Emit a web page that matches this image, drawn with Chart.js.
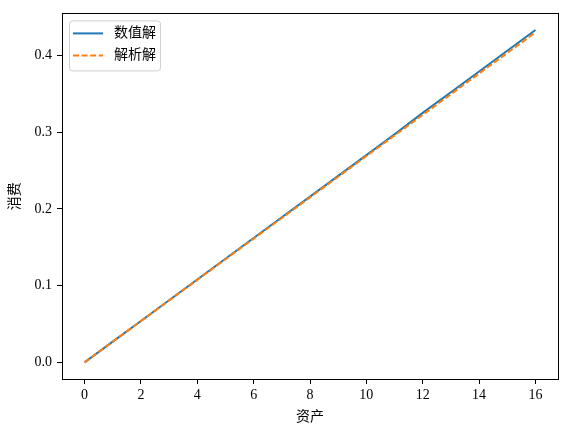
<!DOCTYPE html>
<html>
<head>
<meta charset="utf-8">
<script src="https://cdn.jsdelivr.net/npm/chart.js@4"></script>
<style>
  html, body { margin: 0; padding: 0; background: #fff; }
  #wrap { width: 567px; height: 436px; }
</style>
</head>
<body>
<div id="wrap"><canvas id="chart" width="567" height="436"></canvas></div>
<script>
// asset grid and consumption
const assets = [0, 1, 2, 3, 4, 5, 6, 7, 8, 9, 10, 11, 12, 13, 14, 15, 16];
const numerical = [0, 0.027, 0.054, 0.081, 0.108, 0.135, 0.162, 0.189, 0.216, 0.243, 0.270, 0.297, 0.325, 0.352, 0.379, 0.406, 0.433];
const analytical = [0, 0.0269, 0.0538, 0.0806, 0.1075, 0.1344, 0.1613, 0.1881, 0.215, 0.2419, 0.2688, 0.2956, 0.3225, 0.3494, 0.3763, 0.4031, 0.430];
const xTicks = [0, 2, 4, 6, 8, 10, 12, 14, 16];
const yTicks = [0.0, 0.1, 0.2, 0.3, 0.4];

const FONT = "'Liberation Serif', 'Noto Sans CJK SC', serif";

// frame around the plot + legend box drawn in the top-left corner
const framePlugin = {
    id: "frame",
    afterDraw(chart) {
        const ctx = chart.ctx;
        const a = chart.chartArea;
        ctx.save();
        ctx.strokeStyle = "#000";
        ctx.lineWidth = 1;
        ctx.strokeRect(Math.round(a.left) + 0.5, Math.round(a.top) + 0.5,
            Math.round(a.right - a.left), Math.round(a.bottom - a.top));

        // legend
        const x = a.left + 7, y = a.top + 7, w = 91, h = 50;
        ctx.beginPath();
        ctx.roundRect(x + 0.5, y + 0.5, w, h, 3);
        ctx.fillStyle = "rgba(255,255,255,0.8)";
        ctx.fill();
        ctx.strokeStyle = "#d0d0d0";
        ctx.stroke();

        chart.data.datasets.forEach((ds, i) => {
            const ly = y + 13 + i * 22;
            ctx.beginPath();
            ctx.strokeStyle = ds.borderColor;
            ctx.lineWidth = 2;
            ctx.setLineDash(ds.borderDash || []);
            ctx.moveTo(x + 4, ly);
            ctx.lineTo(x + 34, ly);
            ctx.stroke();
            ctx.setLineDash([]);
            ctx.fillStyle = "#000";
            ctx.font = "14px " + FONT;
            ctx.textBaseline = "middle";
            ctx.fillText(ds.label, x + 45, ly);
        });
        ctx.restore();
    }
};

new Chart(document.getElementById("chart"), {
    type: "line",
    data: {
        labels: assets,
        datasets: [
            {
                label: "数值解",
                data: assets.map((a, i) => ({ x: a, y: numerical[i] })),
                borderColor: "#1f77b4",
                borderWidth: 2,
                pointRadius: 0,
                order: 1,
                fill: false
            },
            {
                label: "解析解",
                data: assets.map((a, i) => ({ x: a, y: analytical[i] })),
                borderColor: "#ff7f0e",
                borderWidth: 2,
                borderDash: [6, 2.6],
                pointRadius: 0,
                order: 0,
                fill: false
            }
        ]
    },
    options: {
        responsive: false,
        animation: false,
        layout: { padding: { top: 9, right: 9, left: 0, bottom: 0 } },
        plugins: {
            legend: { display: false },
            tooltip: { enabled: false }
        },
        scales: {
            x: {
                type: "linear",
                min: -0.8,
                max: 16.8,
                afterBuildTicks: s => { s.ticks = xTicks.map(v => ({ value: v })); },
                afterFit: s => { s.height = 57; },
                grid: { display: true, drawOnChartArea: false, tickLength: 5, color: "#000" },
                border: { display: true, color: "#000" },
                ticks: {
                    color: "#000",
                    padding: 3,
                    maxRotation: 0,
                    font: { family: FONT, size: 14 },
                    callback: v => String(v)
                },
                title: {
                    display: true,
                    text: "资产",
                    color: "#000",
                    padding: { top: 4, bottom: 10 },
                    font: { family: FONT, size: 14 }
                }
            },
            y: {
                min: -0.02165,
                max: 0.45465,
                afterBuildTicks: s => { s.ticks = yTicks.map(v => ({ value: v })); },
                afterFit: s => { s.width = 62; },
                grid: { display: true, drawOnChartArea: false, tickLength: 5, color: "#000" },
                border: { display: true, color: "#000" },
                ticks: {
                    color: "#000",
                    padding: 5,
                    font: { family: FONT, size: 14 },
                    callback: v => v.toFixed(1)
                },
                title: {
                    display: true,
                    text: "消费",
                    color: "#000",
                    padding: { top: 7, bottom: 4 },
                    font: { family: FONT, size: 14 }
                }
            }
        }
    },
    plugins: [framePlugin]
});
</script>
</body>
</html>
